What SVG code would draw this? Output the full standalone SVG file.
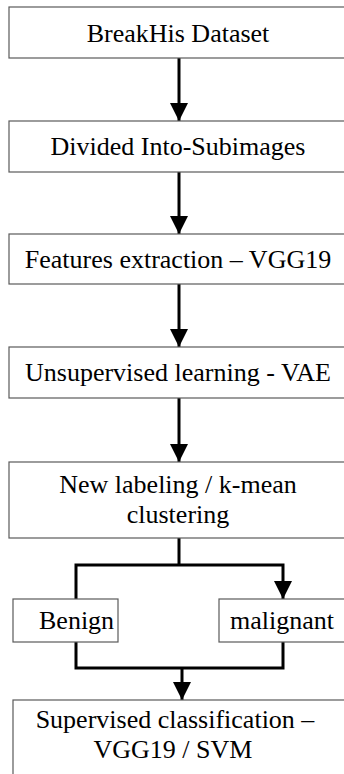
<svg xmlns="http://www.w3.org/2000/svg" width="344" height="774" viewBox="0 0 344 774">
<style>
.box{fill:#fff;stroke:#5a5a5a;stroke-width:1.2}
.t{font-family:"Liberation Serif","Times New Roman",serif;font-size:26px;fill:#000}
.c{text-anchor:middle}
.ln{fill:none;stroke:#000;stroke-width:3}
</style>
<defs>
<marker id="ah" markerUnits="userSpaceOnUse" markerWidth="18" markerHeight="18" refX="18" refY="9" orient="auto" viewBox="0 0 18 18">
<path d="M0,0 L18,9 L0,18 z" fill="#000"/>
</marker>
</defs>
<rect width="344" height="774" fill="#fff"/>
<g id="connectors">
<line class="ln" x1="179" y1="58" x2="179" y2="121" marker-end="url(#ah)"/>
<line class="ln" x1="179" y1="172" x2="179" y2="234" marker-end="url(#ah)"/>
<line class="ln" x1="179" y1="284" x2="179" y2="347" marker-end="url(#ah)"/>
<line class="ln" x1="179" y1="398" x2="179" y2="462" marker-end="url(#ah)"/>
<polyline class="ln" points="179,538 179,565"/>
<polyline class="ln" points="76,599 76,565 283,565 283,599" marker-start="url(#ah)" marker-end="url(#ah)"/>
<polyline class="ln" points="76,642 76,668 283,668 283,642"/>
<line class="ln" x1="182" y1="668" x2="182" y2="700" marker-end="url(#ah)"/>
</g>
<g id="n1"><rect class="box" x="9" y="7" width="340" height="51"/><text class="t c" x="178" y="42">BreakHis Dataset</text></g>
<g id="n2"><rect class="box" x="9" y="121" width="340" height="51"/><text class="t c" x="178" y="155">Divided Into-Subimages</text></g>
<g id="n3"><rect class="box" x="9" y="234" width="340" height="50"/><text class="t c" x="178" y="268">Features extraction – VGG19</text></g>
<g id="n4"><rect class="box" x="9" y="347" width="340" height="51"/><text class="t c" x="178" y="381">Unsupervised learning - VAE</text></g>
<g id="n5"><rect class="box" x="9" y="462" width="340" height="76"/><text class="t c" x="178" y="493">New labeling / k-mean</text><text class="t c" x="178" y="523">clustering</text></g>
<g id="n6"><rect class="box" x="13" y="599" width="105" height="43"/><text class="t" x="39" y="629">Benign</text></g>
<g id="n7"><rect class="box" x="219" y="599" width="135" height="43"/><text class="t" x="230" y="629">malignant</text></g>
<g id="n8"><rect class="box" x="13" y="700" width="340" height="90"/><text class="t c" x="175" y="728">Supervised classification –</text><text class="t c" x="173" y="758">VGG19 / SVM</text></g>
</svg>
